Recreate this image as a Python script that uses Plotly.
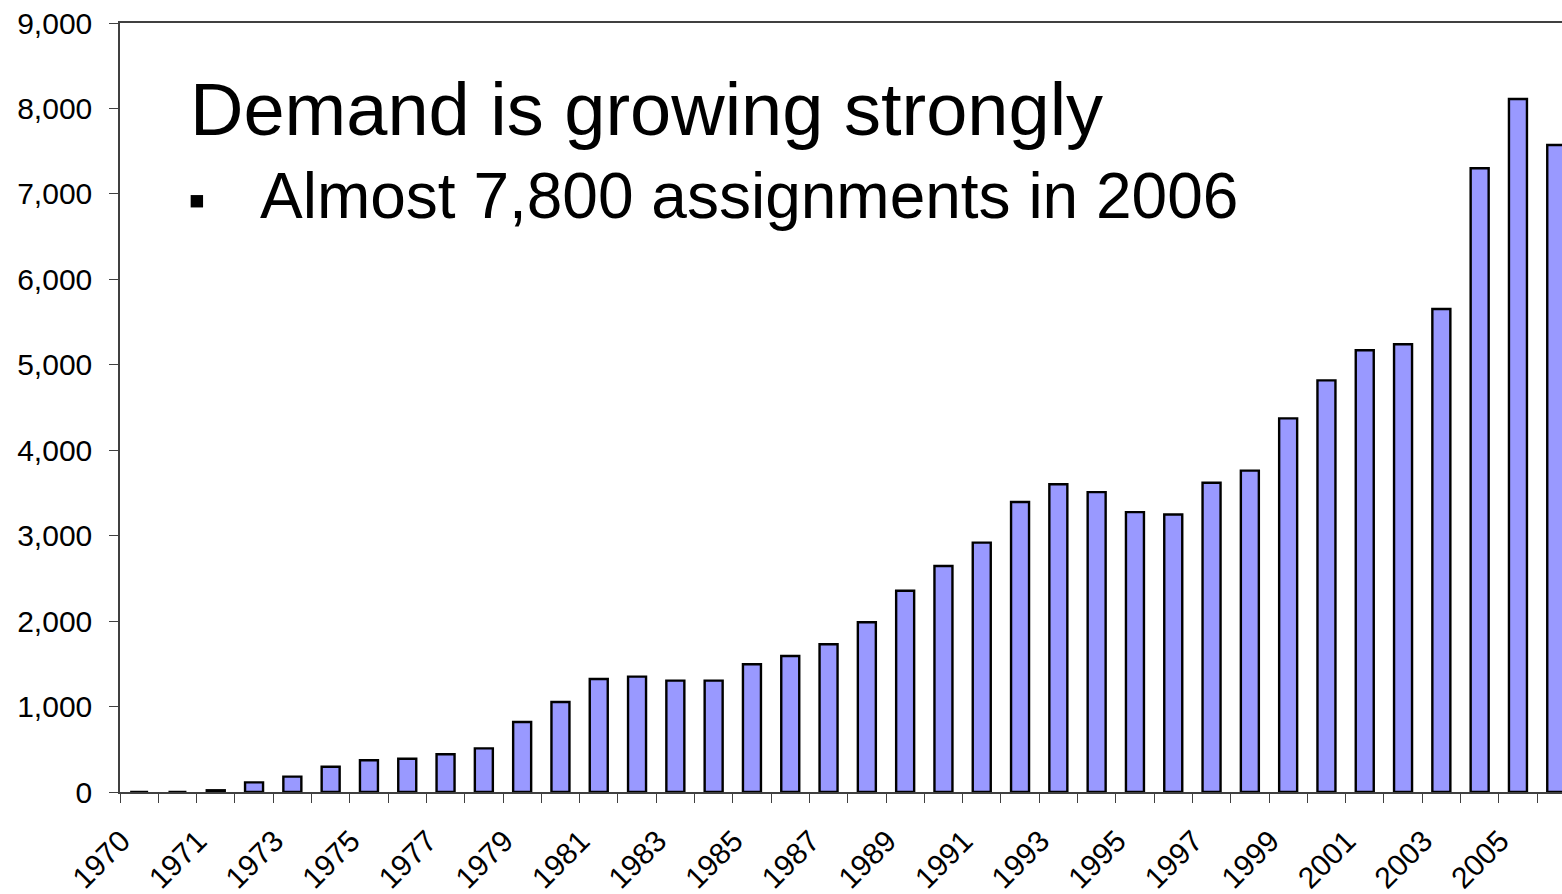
import plotly.graph_objects as go

# Categories as shown on the axis (first slot is an extra leading category)
categories = ["1970", "1970 ", "1971", "1972", "1973", "1974", "1975", "1976", "1977",
              "1978", "1979", "1980", "1981", "1982", "1983", "1984", "1985", "1986",
              "1987", "1988", "1989", "1990", "1991", "1992", "1993", "1994", "1995",
              "1996", "1997", "1998", "1999", "2000", "2001", "2002", "2003", "2004",
              "2005", "2006"]
assignments = [0, 0, 20, 113, 180, 296, 371, 390, 441, 510, 819, 1053, 1323, 1350,
               1303, 1303, 1495, 1592, 1729, 1986, 2356, 2645, 2918, 3394, 3601, 3510,
               3275, 3248, 3620, 3761, 4373, 4818, 5170, 5240, 5653, 7300, 8111, 7573]
PAD = "\u00a0" * 3
tick_labels = [c + PAD if i % 2 == 0 else "" for i, c in enumerate(categories)]

title_text = "Demand is growing strongly"
bullet_text = "Almost 7,800 assignments in 2006"

FONT = "Liberation Sans, Arial, sans-serif"

fig = go.Figure()
fig.add_trace(go.Bar(
    x=categories, y=assignments,
    width=0.47,
    marker=dict(color="#9999FF", line=dict(color="#000000", width=2.4)),
    showlegend=False,
))

fig.update_layout(
    width=1562, height=894,
    margin=dict(l=120, r=0, t=23, b=102),
    paper_bgcolor="white", plot_bgcolor="white",
    font=dict(family=FONT, color="black", size=30),
)
fig.update_xaxes(
    type="category", automargin=False,
    range=[-0.5, 37.15],
    tickmode="array", tickvals=categories, ticktext=tick_labels,
    tickson="boundaries", ticks="outside", ticklen=9, tickwidth=1.3, tickcolor="#404040",
    tickangle=-45, tickfont=dict(family=FONT, size=30, color="black"),
    ticklabeloverflow="allow",
    showline=True, linecolor="#404040", linewidth=1.5, mirror=True,
    showgrid=False, zeroline=False,
)
fig.update_yaxes(
    automargin=False,
    range=[0, 9000], dtick=1000, tickformat=",",
    ticks="outside", ticklen=9, tickwidth=1.3, tickcolor="#404040",
    tickfont=dict(family=FONT, size=30, color="black"),
    ticklabelstandoff=11, ticklabeloverflow="allow",
    showline=True, linecolor="#404040", linewidth=1.5,
    showgrid=False, zeroline=False,
)

fig.add_annotation(
    text=title_text, xref="paper", yref="paper",
    x=0.0472, y=0.8877, xanchor="left", yanchor="middle", showarrow=False,
    font=dict(family=FONT, size=74, color="black"),
)
fig.add_annotation(
    text="\u25aa", xref="paper", yref="paper",
    x=(197 - 120) / 1442, y=(793 - 200) / 770, xanchor="center", yanchor="middle",
    showarrow=False, font=dict(family=FONT, size=50, color="black"),
)
fig.add_annotation(
    text=bullet_text, xref="paper", yref="paper",
    x=0.0957, y=0.775, xanchor="left", yanchor="middle", showarrow=False,
    font=dict(family=FONT, size=64, color="black"),
)

fig.write_html(
    "out.html",
    config={"displayModeBar": False},
    post_script="document.body.style.margin='0';document.body.style.overflow='hidden';",
)
